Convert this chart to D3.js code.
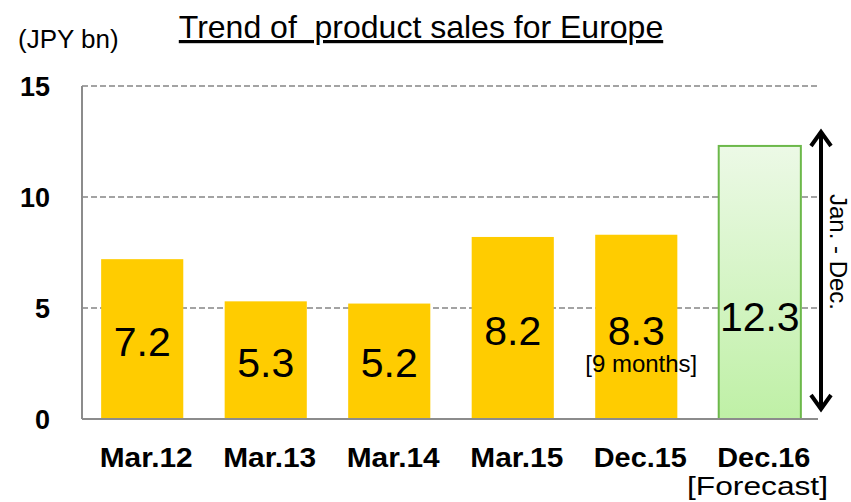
<!DOCTYPE html>
<html>
<head>
<style>
  body { margin: 0; background: #fff; }
  svg text { font-family: "Liberation Sans", Arial, sans-serif; }
</style>
<script src="https://d3js.org/d3.v7.min.js"></script>
</head>
<body>
<svg width="851" height="502"></svg>
<script>
var categories = ["Mar.12", "Mar.13", "Mar.14", "Mar.15", "Dec.15", "Dec.16"];
var sales = [7.2, 5.3, 5.2, 8.2, 8.3, 12.3];
var yTicks = [0, 5, 10, 15];

var svg = d3.select("svg");
var plotL = 82, plotR = 820, plotT = 86, plotB = 419;

var x = d3.scaleBand().domain(categories).range([plotL, plotR]).paddingInner(0.335).paddingOuter(0.155);
var y = d3.scaleLinear().domain([0, 15]).range([plotB, plotT]);

var defs = svg.append("defs");
var grad = defs.append("linearGradient").attr("id", "fc").attr("x1", 0).attr("y1", 0).attr("x2", 0).attr("y2", 1);
grad.append("stop").attr("offset", "0%").attr("stop-color", "#ecf9e6");
grad.append("stop").attr("offset", "100%").attr("stop-color", "#bff0a6");

// gridlines
svg.append("g").selectAll("line").data(yTicks.filter(function(d) { return d > 0; }))
  .enter().append("line")
  .attr("x1", plotL).attr("x2", 818)
  .attr("y1", function(d) { return y(d); }).attr("y2", function(d) { return y(d); })
  .attr("stroke", "#858585").attr("stroke-width", 1.5).attr("stroke-dasharray", "6,3");

// axis line
svg.append("line").attr("x1", plotL).attr("x2", plotL).attr("y1", plotT).attr("y2", plotB)
  .attr("stroke", "#8c8c8c").attr("stroke-width", 2);

// bars
svg.append("g").selectAll("rect").data(sales).enter().append("rect")
  .attr("x", function(d, i) { return x(categories[i]); })
  .attr("width", x.bandwidth())
  .attr("y", function(d) { return y(d); })
  .attr("height", function(d) { return plotB - y(d); })
  .attr("fill", function(d, i) { return i == 5 ? "url(#fc)" : "#ffcc00"; })
  .attr("stroke", function(d, i) { return i == 5 ? "#6cb84a" : "none"; })
  .attr("stroke-width", 2);

svg.append("line").attr("x1", plotL).attr("x2", 818).attr("y1", plotB).attr("y2", plotB)
  .attr("stroke", "#8c8c8c").attr("stroke-width", 2);

// value labels
var labelY = [356, 377, 377, 345, 345, 331];
svg.append("g").selectAll("text").data(sales).enter().append("text")
  .attr("x", function(d, i) { return x(categories[i]) + x.bandwidth() / 2; })
  .attr("y", function(d, i) { return labelY[i]; })
  .attr("text-anchor", "middle")
  .style("font-size", "41px")
  .text(function(d) { return d.toFixed(1); });

svg.append("text").attr("x", x("Dec.15") + x.bandwidth() / 2 + 5).attr("y", 372)
  .attr("text-anchor", "middle").style("font-size", "24px").text("[9 months]");

// y tick labels
svg.append("g").selectAll("text").data(yTicks).enter().append("text")
  .attr("x", 50).attr("y", function(d) { return y(d) + 10; })
  .attr("text-anchor", "end").style("font-size", "27px").style("font-weight", "bold")
  .text(function(d) { return d; });

// category labels
svg.append("g").selectAll("text").data(categories).enter().append("text")
  .attr("x", function(d) { return x(d) + x.bandwidth() / 2 + 4; })
  .attr("y", 467)
  .attr("text-anchor", "middle").style("font-size", "27px").style("font-weight", "bold")
  .attr("textLength", 93).attr("lengthAdjust", "spacingAndGlyphs")
  .text(function(d) { return d; });

svg.append("text").attr("x", 828).attr("y", 495).attr("text-anchor", "end")
  .style("font-size", "26px").attr("textLength", 141).attr("lengthAdjust", "spacingAndGlyphs")
  .text("[Forecast]");

// title and unit
svg.append("text").attr("x", 421).attr("y", 38).attr("text-anchor", "middle")
  .style("font-size", "32px").style("text-decoration", "underline")
  .style("white-space", "pre")
  .text("Trend of  product sales for Europe");
svg.append("text").attr("x", 18).attr("y", 48).style("font-size", "26px").text("(JPY bn)");

// Jan. - Dec. arrow
var ax = 821;
svg.append("line").attr("x1", ax).attr("x2", ax).attr("y1", 134).attr("y2", 406)
  .attr("stroke", "#000").attr("stroke-width", 4);
svg.append("path").attr("d", "M" + (ax - 10) + ",146 L" + ax + ",132 L" + (ax + 10) + ",146")
  .attr("fill", "none").attr("stroke", "#000").attr("stroke-width", 4);
svg.append("path").attr("d", "M" + (ax - 10) + ",395 L" + ax + ",409 L" + (ax + 10) + ",395")
  .attr("fill", "none").attr("stroke", "#000").attr("stroke-width", 4);
svg.append("text").attr("transform", "translate(830,252) rotate(90)")
  .attr("text-anchor", "middle").style("font-size", "24px").text("Jan. - Dec.");
</script>
</body>
</html>
